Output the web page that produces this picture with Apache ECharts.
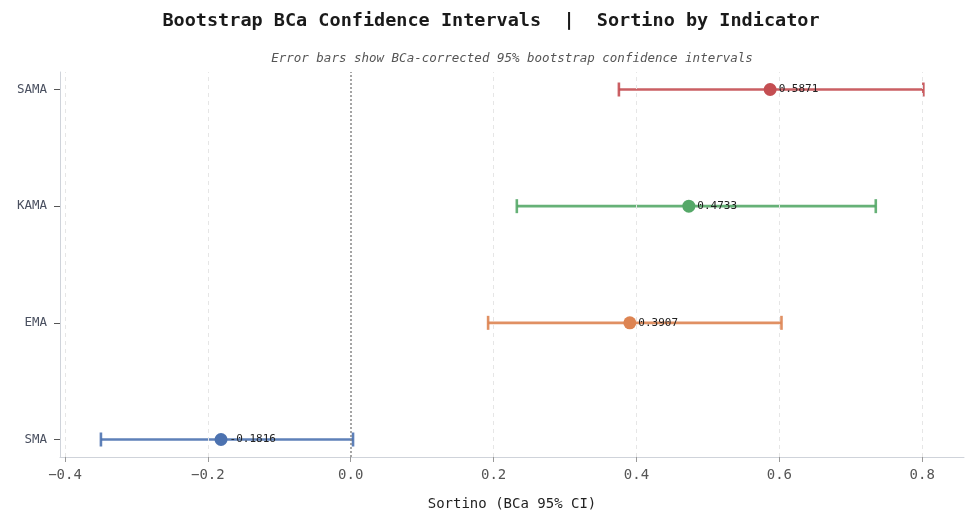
<!DOCTYPE html>
<html><head><meta charset="utf-8">
<script src="https://cdn.jsdelivr.net/npm/echarts@6/dist/echarts.min.js"></script>
<style>html,body{margin:0;padding:0;background:#fff}#c{width:979px;height:528px}</style>
</head><body><div id="c"></div>
<script>
const categories = ['SMA', 'EMA', 'KAMA', 'SAMA'];
const pointValues = [-0.1816, 0.3907, 0.4733, 0.5871];
const lowerValues = [-0.3497, 0.1923, 0.2325, 0.3754];
const upperValues = [0.0032, 0.6030, 0.7350, 0.8016];
const colors = ['#4c72b0', '#dd8452', '#55a868', '#c44e52'];
const xTicks = [-0.4, -0.2, 0.0, 0.2, 0.4, 0.6, 0.8];
const yTicks = [0, 1, 2, 3];

const mono = '"DejaVu Sans Mono", monospace';
const fmt = v => (v < 0 ? '\u2212' : '') + Math.abs(v).toFixed(1);

const chart = echarts.init(document.getElementById('c'));
chart.setOption({
  animation: false,
  backgroundColor: '#ffffff',
  title: [
    { text: 'Bootstrap BCa Confidence Intervals  |  Sortino by Indicator', left: 486, top: 7, textAlign: 'center',
      textStyle: { fontFamily: mono, fontSize: 18.5, fontWeight: 'bold', color: '#1a1a1a' } },
    { text: 'Error bars show BCa-corrected 95% bootstrap confidence intervals', left: 507, top: 47, textAlign: 'center',
      textStyle: { fontFamily: mono, fontSize: 12.5, fontStyle: 'italic', fontWeight: 'normal', color: '#555' } }
  ],
  grid: { left: 60, right: 15, top: 72, bottom: 71 },
  xAxis: {
    type: 'value', min: -0.407, max: 0.8585,
    name: 'Sortino (BCa 95% CI)', nameLocation: 'middle', nameGap: 40,
    nameTextStyle: { fontFamily: mono, fontSize: 14, color: '#222' },
    axisLine: { show: true, onZero: false, lineStyle: { color: '#cfd3da', width: 1 } },
    axisTick: { show: true, length: 5, lineStyle: { color: '#999' }, customValues: xTicks },
    axisLabel: { customValues: xTicks, formatter: fmt, fontFamily: mono, fontSize: 14, color: '#555', margin: 11 },
    splitLine: { show: false }
  },
  yAxis: {
    type: 'value', min: -0.15, max: 3.15,
    axisLine: { show: true, onZero: false, lineStyle: { color: '#cfd3da', width: 1 } },
    axisTick: { show: true, length: 6, lineStyle: { color: '#555' }, customValues: yTicks },
    axisLabel: { customValues: yTicks, formatter: v => categories[Math.round(v)] || '', fontFamily: mono, fontSize: 12.5, color: '#4a5060', margin: 13 },
    splitLine: { show: false }
  },
  series: [
    {
      type: 'line', data: [], silent: true,
      markLine: {
        silent: true, symbol: 'none', label: { show: false },
        data: xTicks.filter(v => v !== 0).map(v => ({ xAxis: v, lineStyle: { color: '#e6e6e6', type: [4, 4], width: 1 } }))
          .concat([{ xAxis: 0, lineStyle: { color: '#888', type: [2, 2], width: 1.5 } }])
      }
    },
    {
      type: 'custom',
      data: categories.map((c, i) => [i, lowerValues[i], upperValues[i]]),
      renderItem: function (params, api) {
        const i = api.value(0);
        const a = api.coord([api.value(1), i]);
        const b = api.coord([api.value(2), i]);
        const h = 7;
        const st = { stroke: colors[i], lineWidth: 2.6, opacity: 0.9 };
        return { type: 'group', children: [
          { type: 'line', shape: { x1: a[0], y1: a[1], x2: b[0], y2: b[1] }, style: st },
          { type: 'line', shape: { x1: a[0], y1: a[1] - h, x2: a[0], y2: a[1] + h }, style: st },
          { type: 'line', shape: { x1: b[0], y1: b[1] - h, x2: b[0], y2: b[1] + h }, style: st }
        ] };
      },
      z: 3
    },
    {
      type: 'scatter', symbolSize: 13, z: 5,
      data: categories.map((c, i) => ({ value: [pointValues[i], i], itemStyle: { color: colors[i], opacity: 1 } })),
      label: {
        show: true, position: 'right', distance: 2,
        formatter: p => p.value[0].toFixed(4),
        fontFamily: mono, fontSize: 11, color: '#222'
      }
    }
  ]
});
</script></body></html>
